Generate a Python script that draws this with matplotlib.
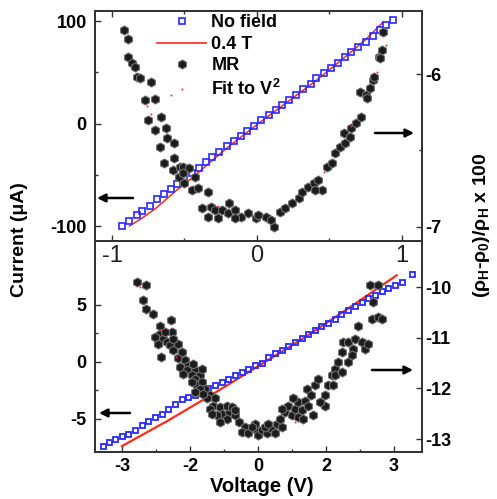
import matplotlib
matplotlib.use("Agg")
import matplotlib.pyplot as plt
from matplotlib.lines import Line2D
from matplotlib.ticker import FixedLocator

plt.rcParams['font.family'] = ['Liberation Sans', 'DejaVu Sans']
plt.rcParams['axes.unicode_minus'] = False
plt.rcParams['mathtext.fontset'] = 'custom'
plt.rcParams['mathtext.rm'] = 'Liberation Sans:bold'
plt.rcParams['mathtext.it'] = 'Liberation Sans:bold'
plt.rcParams['mathtext.bf'] = 'Liberation Sans:bold'
plt.rcParams['mathtext.default'] = 'rm'

# ---------------- top panel data ----------------
top_nf_v = [-0.93, -0.88, -0.83, -0.79, -0.74, -0.69, -0.64, -0.59, -0.55, -0.50,
            -0.45, -0.40, -0.35, -0.31, -0.26, -0.21, -0.16, -0.11, -0.07, -0.02,
            0.03, 0.08, 0.13, 0.17, 0.22, 0.27, 0.32, 0.37, 0.41, 0.46,
            0.51, 0.56, 0.61, 0.65, 0.70, 0.75, 0.80, 0.85, 0.89, 0.94]
top_nf_i = [-100, -95, -89, -85, -80, -74, -69, -64, -59, -54,
            -48, -43, -38, -33, -28, -22, -17, -12, -7, -2,
            3, 8, 13, 18, 23, 28, 34, 39, 44, 49,
            54, 59, 65, 70, 75, 80, 85, 91, 96, 101]

top_field_v = [-0.88, -0.80, -0.70, -0.57, -0.43, -0.30, -0.20, -0.10, 0.0, 0.2, 0.4, 0.6, 0.75, 0.87]
top_field_i = [-100, -93, -83, -67, -51, -35, -23, -12, -1, 20, 41, 64, 82, 99]

top_mr_v = [-0.92, -0.89, -0.89, -0.86, -0.84, -0.83, -0.81, -0.73, -0.77, -0.70,
            -0.75, -0.66, -0.70, -0.63, -0.62, -0.67, -0.57, -0.64, -0.57, -0.58,
            -0.53, -0.51, -0.47, -0.54, -0.51, -0.50, -0.43, -0.45, -0.41, -0.34,
            -0.38, -0.32, -0.29, -0.24, -0.19, -0.20, -0.15, -0.11, -0.06, -0.01,
            -0.34, -0.27, -0.15, 0.01, 0.06, 0.10, 0.12, 0.16, 0.19, 0.24,
            0.29, 0.31, 0.35, 0.39, 0.42, 0.45, 0.40, 0.48, 0.52, 0.54,
            0.57, 0.61, 0.60, 0.64, 0.65, 0.68, 0.72, 0.71, 0.75, 0.76,
            0.78, 0.80, 0.81, 0.84, 0.86, 0.85, 0.87]
top_mr_r = [-5.712, -5.773, -5.887, -5.930, -5.952, -6.018, -6.028, -6.050, -6.170, -6.165,
            -6.301, -6.279, -6.366, -6.355, -6.420, -6.475, -6.453, -6.584, -6.551, -6.627,
            -6.606, -6.606, -6.616, -6.671, -6.649, -6.714, -6.671, -6.758, -6.747, -6.769,
            -6.878, -6.867, -6.889, -6.889, -6.845, -6.910, -6.889, -6.933, -6.910, -6.943,
            -6.933, -6.943, -6.943, -6.922, -6.933, -6.954, -6.998, -6.900, -6.878, -6.845,
            -6.812, -6.769, -6.737, -6.714, -6.693, -6.758, -6.758, -6.606, -6.584, -6.518,
            -6.475, -6.453, -6.388, -6.410, -6.355, -6.322, -6.279, -6.116, -6.137, -6.159,
            -6.093, -6.039, -6.018, -5.887, -5.843, -5.897, -5.723]

top_fit_v = [-0.76, -0.73, -0.59, -0.27, 0.46, 0.65, 0.83, 0.89]
top_fit_r = [-6.21, -6.26, -6.14, -6.86, -6.64, -6.34, -5.99, -5.81]

# ---------------- bottom panel data ----------------
bot_nf_v = [-3.41, -3.28, -3.15, -3.01, -2.86, -2.72, -2.57, -2.42, -2.27, -2.12,
            -1.98, -1.83, -1.68, -1.54, -1.39, -1.24, -1.10, -0.95, -0.80, -0.66,
            -0.51, -0.36, -0.22, -0.07, 0.08, 0.23, 0.37, 0.52, 0.67, 0.81,
            0.96, 1.11, 1.26, 1.40, 1.55, 1.70, 1.84, 1.99, 2.14, 2.29,
            2.43, 2.58, 2.73, 2.87, 3.02, 3.17, 3.39]
bot_nf_i = [-7.40, -7.08, -6.75, -6.55, -6.37, -5.95, -5.53, -5.20, -4.88, -4.56,
            -4.12, -3.69, -3.25, -3.07, -2.89, -2.62, -2.34, -2.07, -1.77, -1.48,
            -1.19, -0.90, -0.61, -0.32, -0.08, 0.41, 0.73, 1.05, 1.38, 1.74,
            2.10, 2.46, 2.79, 3.10, 3.40, 3.75, 4.21, 4.53, 4.90, 5.24,
            5.55, 5.87, 6.18, 6.45, 6.72, 6.99, 7.72]

bot_field_v = [-3.0, -2.0, -1.0, 0.0, 1.0, 2.0, 3.06]
bot_field_i = [-7.4, -5.2, -2.85, -0.4, 2.05, 4.7, 7.58]

bot_mr_v = [-2.68, -2.46, -2.53, -2.46, -2.31, -2.16, -1.92, -1.90, -2.16, -2.09,
            -2.01, -2.20, -1.94, -1.87, -2.13, -1.76, -1.61, -1.72, -1.54, -1.57,
            -1.39, -1.65, -1.46, -1.28, -1.39, -1.35, -1.24, -1.17, -1.32, -1.06,
            -1.13, -0.95, -0.99, -1.06, -0.84, -0.80, -0.65, -0.69, -0.51, -0.43,
            -0.29, -0.36, -0.21, -0.07, 0.01, 0.08, 0.19, 0.30, 0.38, 0.41,
            0.52, 0.49, 0.60, 0.67, 0.74, 0.82, 0.89, 0.96, 1.04, 1.11,
            1.07, 1.18, 1.26, 1.33, 1.22, 1.48, 1.55, 1.63, 1.70, 1.77,
            1.85, 1.88, 1.99, 2.10, 2.14, 2.21, 2.29, 2.36, 2.43, 2.51,
            2.65, 2.73, 2.54, 2.47, 2.65,
            -0.07, 0.15, 0.23, -0.14, 0.78, 0.89, 1.00, 0.52, -0.69, -0.58,
            -0.51, -0.91, -0.84, -1.02, -1.28, -1.21, -1.46, -1.39, -1.24, -1.43,
            -1.68, -1.76, -2.05, -2.27, -1.87, 1.99, 2.07, 1.70, 1.66, 1.85,
            1.48, 1.37]
bot_mr_r = [-9.90, -9.97, -10.26, -10.43, -10.53, -10.76, -10.66, -10.89, -10.92, -11.02,
            -11.09, -11.12, -11.15, -11.25, -11.38, -11.41, -11.45, -11.58, -11.55, -11.64,
            -11.64, -11.71, -11.74, -11.74, -11.81, -11.94, -11.88, -12.01, -12.07, -12.14,
            -12.20, -12.20, -12.34, -12.40, -12.37, -12.50, -12.47, -12.60, -12.53, -12.66,
            -12.76, -12.86, -12.89, -12.80, -12.93, -12.83, -12.89, -12.80, -12.89, -12.70,
            -12.76, -12.60, -12.47, -12.34, -12.53, -12.40, -12.27, -12.43, -12.24, -12.34,
            -12.01, -12.14, -11.94, -11.81, -12.53, -12.14, -11.94, -11.74, -11.61, -11.48,
            -11.28, -11.09, -11.09, -11.22, -11.02, -10.76, -11.09, -11.22, -11.12, -10.63,
            -10.59, -10.63, -10.30, -9.97, -9.97,
            -12.70, -12.76, -12.70, -12.76, -12.20, -12.57, -12.60, -12.40, -12.34, -12.37,
            -12.43, -12.53, -12.66, -12.50, -12.01, -12.11, -11.88, -12.07, -11.61, -11.51,
            -11.28, -11.12, -10.89, -10.99, -11.02, -11.48, -11.35, -11.74, -11.94, -11.68,
            -12.34, -12.27]

bot_fit_v = [-2.60, -2.16, -1.81, 0.82]
bot_fit_r = [-10.00, -10.85, -11.38, -12.66]

bot_xtick_pos = [-3, -1.5, 0, 1.5, 3]
bot_xtick_lab = ['-3', '-2', '0', '2', '3']

# ---------------- styles ----------------
BLUE = '#2a2aff'
RED = '#ff2a1a'
SPINE = '#333333'
mr_style = dict(ls='none', marker='h', ms=6.5, mfc='#1c1c1c', mec='#707070', mew=0.8)
nf_style = dict(ls='none', marker='s', ms=4.2, mfc='none', mec=BLUE, mew=1.2)

fig = plt.figure(figsize=(4.97, 4.99), dpi=100)
L, W = 95 / 497, 327 / 497
ax_t = fig.add_axes([L, 1 - 241 / 499, W, 230 / 499])
ax_b = fig.add_axes([L, 1 - 452 / 499, W, 211 / 499])
ax_b.patch.set_visible(False)
ax_tr = ax_t.twinx()
ax_br = ax_b.twinx()

# top panel
ax_t.plot(top_field_v, top_field_i, color=RED, lw=1.1, zorder=3)
ax_t.plot(top_nf_v, top_nf_i, **nf_style, zorder=4)
ax_tr.plot(top_mr_v, top_mr_r, **mr_style)
ax_tr.plot(top_fit_v, top_fit_r, ls='none', marker='o', ms=1.4, color=RED, mew=0)
ax_t.set_xlim(-1.117, 1.138)
ax_t.set_ylim(-114.6, 109.8)
ax_tr.set_ylim(-7.092, -5.588)
ax_t.set_xticks([-1, 0, 1])
ax_t.xaxis.set_minor_locator(FixedLocator([-0.5, 0.5]))
ax_t.set_yticks([-100, 0, 100])
ax_t.yaxis.set_minor_locator(FixedLocator([-50, 50]))
ax_tr.set_yticks([-7, -6])
ax_tr.yaxis.set_minor_locator(FixedLocator([-6.5]))

# bottom panel
ax_b.plot(bot_field_v, bot_field_i, color=RED, lw=1.6, zorder=3)
ax_b.plot(bot_nf_v, bot_nf_i, ls='none', marker='s', ms=3.6, mfc='none', mec=BLUE, mew=1.3, zorder=4)
ax_br.plot(bot_mr_v, bot_mr_r, **mr_style)
ax_br.plot(bot_fit_v, bot_fit_r, ls='none', marker='o', ms=1.4, color=RED, mew=0)
ax_b.set_xlim(-3.596, 3.618)
ax_b.set_ylim(-7.92, 10.59)
ax_br.set_ylim(-13.256, -9.092)
ax_b.xaxis.set_major_locator(FixedLocator(bot_xtick_pos))
ax_b.set_xticklabels(bot_xtick_lab)
ax_b.xaxis.set_minor_locator(FixedLocator([-2.25, -0.75, 0.75, 2.25]))
ax_b.set_yticks([-5, 0, 5])
ax_b.yaxis.set_minor_locator(FixedLocator([-2.5, 2.5]))
ax_br.set_yticks([-13, -12, -11, -10])

for a in (ax_t, ax_b, ax_tr, ax_br):
    for s in a.spines.values():
        s.set_color(SPINE)
        s.set_linewidth(1.3)
    a.tick_params(which='both', direction='in', color=SPINE, width=1.0)
    a.tick_params(which='major', length=4)
    a.tick_params(which='minor', length=2.5)

ax_t.tick_params(axis='x', which='both', top=True, bottom=True, labelsize=17, pad=3, labelcolor='#222222')
ax_t.tick_params(axis='y', which='both', labelsize=13, pad=6)
ax_b.tick_params(axis='x', which='both', top=False, labelsize=13, pad=4)
ax_b.tick_params(axis='y', which='both', labelsize=13, pad=6)
ax_tr.tick_params(axis='y', which='both', labelsize=13, pad=2)
ax_br.tick_params(axis='y', which='both', labelsize=13, pad=2)
for a in (ax_t, ax_b, ax_tr, ax_br):
    for lab in a.get_yticklabels():
        lab.set_fontweight('bold')
for lab in ax_b.get_xticklabels():
    lab.set_fontweight('bold')

# arrows (axes-fraction positions)
def arrow(ax, x0, x1, y):
    ax.annotate('', xy=(x1, y), xytext=(x0, y), xycoords='axes fraction',
                arrowprops=dict(arrowstyle='-|>', color='black', lw=1.8, mutation_scale=12,
                                shrinkA=0, shrinkB=0))

arrow(ax_tr, (133 - 95) / 327, (97 - 95) / 327, 1 - (198 - 11) / 230)
arrow(ax_tr, (375 - 95) / 327, (414 - 95) / 327, 1 - (133 - 11) / 230)
arrow(ax_br, (130 - 95) / 327, (99 - 95) / 327, 1 - (413 - 241) / 211)
arrow(ax_br, (372 - 95) / 327, (413 - 95) / 327, 1 - (370 - 241) / 211)

# legend
handles = [Line2D([], [], **nf_style),
           Line2D([], [], color=RED, lw=1.2),
           Line2D([], [], **mr_style),
           Line2D([], [], ls='none', marker='o', ms=1.4, color=RED, mew=0)]
labels = ['No field', '0.4 T', 'MR', r'Fit to V$^{2}$']
leg = ax_tr.legend(handles, labels, loc='upper left', bbox_to_anchor=(0.19, 0.985),
                   frameon=False, handlelength=2.7, handletextpad=0.3, labelspacing=0.25,
                   borderpad=0, borderaxespad=0, prop=dict(size=13, weight='bold'))

# axis labels
fig.text(20 / 497, 1 - 240 / 499, 'Current (\u03bcA)', rotation=90, ha='center', va='center',
         fontsize=14, fontweight='bold')
fig.text(262 / 497, 1 - 486 / 499, 'Voltage (V)', ha='center', va='center',
         fontsize=14.5, fontweight='bold')
fig.text(481 / 497, 1 - 225 / 499, r'($\rho_H$-$\rho_0$)/$\rho_H$ x 100', rotation=90,
         ha='center', va='center', fontsize=14, fontweight='bold')

fig.savefig('out.png', dpi=100, facecolor='white')
